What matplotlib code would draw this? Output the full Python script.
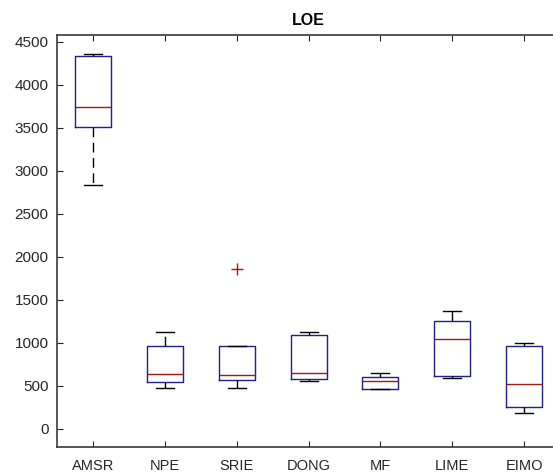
import matplotlib
matplotlib.use("Agg")
from matplotlib import pyplot as plt

# methods and box statistics
methods = ["AMSR", "NPE", "SRIE", "DONG", "MF", "LIME", "EIMO"]
whisker_low = [2830, 476, 476, 560, 460, 588, 186]
q1 = [3511, 542, 572, 584, 460, 615, 255]
medians = [3739, 642, 626, 653, 560, 1048, 519]
q3 = [4340, 963, 963, 1087, 603, 1256, 963]
whisker_high = [4355, 1129, 963, 1129, 653, 1365, 1001]
outliers = [[], [], [1864], [], [], [], []]

stats = []
for i in range(len(methods)):
    stats.append({
        "label": methods[i],
        "whislo": whisker_low[i],
        "q1": q1[i],
        "med": medians[i],
        "q3": q3[i],
        "whishi": whisker_high[i],
        "fliers": outliers[i],
    })

plt.rcParams["font.family"] = "Liberation Sans"
fig = plt.figure(figsize=(5.53, 4.72), dpi=100)
ax = fig.add_axes([0.103, 0.053, 0.910, 0.873])

ax.bxp(stats, widths=0.5, capwidths=0.25,
       boxprops=dict(color="#202088", linewidth=1.0),
       medianprops=dict(color="#a01818", linewidth=1.0),
       whiskerprops=dict(color="black", linewidth=1.0, linestyle=(0, (7, 4))),
       capprops=dict(color="black", linewidth=1.0),
       flierprops=dict(marker="+", markeredgecolor="#a01818", markersize=8, linestyle="none"))

ax.set_xlim(0.5, 7.5)
ax.set_ylim(-210, 4580)
ax.set_yticks(range(0, 4501, 500))
ax.set_title("LOE", fontsize=11.5, fontweight="bold", pad=7)

ax.tick_params(direction="in", top=True, right=True, colors="#262626", length=4)
ax.tick_params(axis="y", labelsize=11, pad=6)
ax.tick_params(axis="x", labelsize=10.5, pad=9)
for s in ax.spines.values():
    s.set_color("#3a3a3a")
    s.set_linewidth(1.2)

plt.savefig("out.png", dpi=100)
plt.close()
